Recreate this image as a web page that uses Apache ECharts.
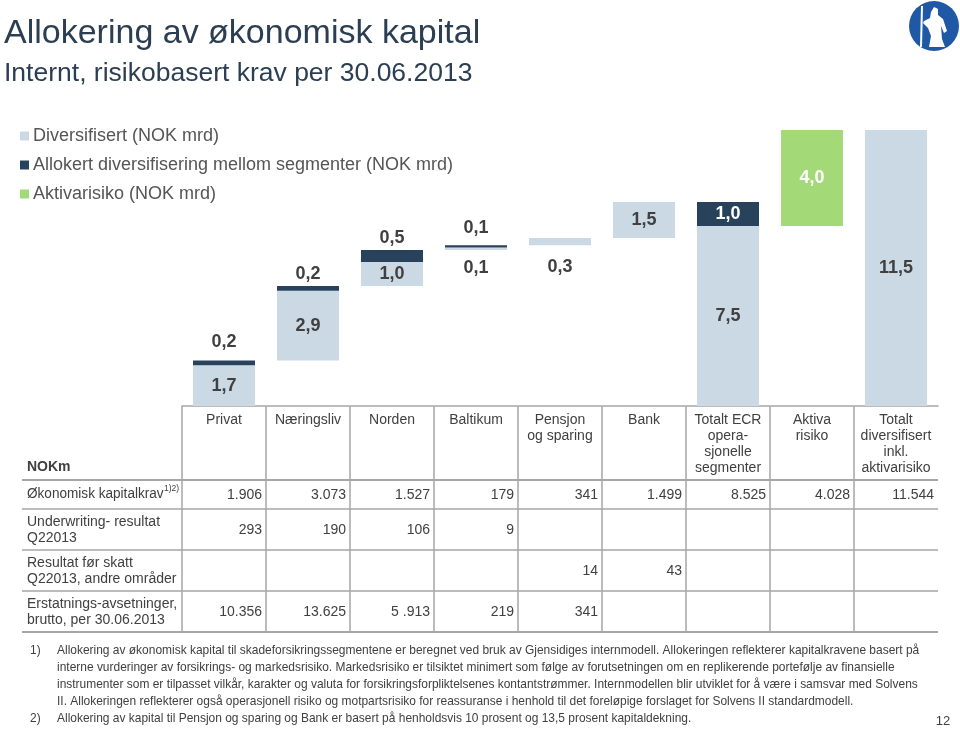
<!DOCTYPE html>
<html>
<head>
<meta charset="utf-8">
<script src="https://cdn.jsdelivr.net/npm/echarts@6/dist/echarts.min.js"></script>
<style>
  html, body { margin: 0; padding: 0; background: #fff; }
  #main { width: 960px; height: 730px; }
</style>
</head>
<body>
<div id="main"></div>
<script>
// segmenter (kategorier)
const segments = ['Privat', 'Næringsliv', 'Norden', 'Baltikum', 'Pensjon og sparing', 'Bank',
  'Totalt ECR operasjonelle segmenter', 'Aktiva risiko', 'Totalt diversifisert inkl. aktivarisiko'];
// tabellhoder, linje for linje
const headerLines = [['Privat'], ['Næringsliv'], ['Norden'], ['Baltikum'], ['Pensjon', 'og sparing'], ['Bank'],
  ['Totalt ECR', 'opera-', 'sjonelle', 'segmenter'], ['Aktiva', 'risiko'], ['Totalt', 'diversifisert', 'inkl.', 'aktivarisiko']];

// NOK mrd
const diversifisert = [1.7, 2.9, 1.0, 0.1, 0.3, 1.5, 7.5, 0, 11.5];
const allokert = [0.2, 0.2, 0.5, 0.1, 0, 0, 1.0, 0, 0];
const aktivarisiko = [0, 0, 0, 0, 0, 0, 0, 4.0, 0];

// tabell (NOKm)
const rowLabels = [['Økonomisk kapitalkrav'], ['Underwriting- resultat', 'Q22013'],
  ['Resultat før skatt', 'Q22013, andre områder'], ['Erstatnings-avsetninger,', 'brutto, per 30.06.2013']];
const kapitalkrav = ['1.906', '3.073', '1.527', '179', '341', '1.499', '8.525', '4.028', '11.544'];
const underwriting = ['293', '190', '106', '9', '', '', '', '', ''];
const resultatForSkatt = ['', '', '', '', '14', '43', '', '', ''];
const erstatning = ['10.356', '13.625', '5 .913', '219', '341', '', '', '', ''];

const footnote1 = [
  'Allokering av økonomisk kapital til skadeforsikringssegmentene er beregnet ved bruk av Gjensidiges internmodell. Allokeringen reflekterer kapitalkravene basert på',
  'interne vurderinger av forsikrings- og markedsrisiko. Markedsrisiko er tilsiktet minimert som følge av forutsetningen om en replikerende portefølje av finansielle',
  'instrumenter som er tilpasset vilkår, karakter og valuta for forsikringsforpliktelsenes kontantstrømmer. Internmodellen blir utviklet for å være i samsvar med Solvens',
  'II. Allokeringen reflekterer også operasjonell risiko og motpartsrisiko for reassuranse i henhold til det foreløpige forslaget for Solvens II standardmodell.'
];
const footnote2 = 'Allokering av kapital til Pensjon og sparing og Bank er basert på henholdsvis 10 prosent og 13,5 prosent kapitaldekning.';

// usynlig base for fossefallet
let run = 0;
const base = segments.map(function (s, i) {
  if (i < 6) { const b = run; run += diversifisert[i] + allokert[i]; return b; }
  if (i === 7) return diversifisert[6];
  return 0;
});

const LIGHT = '#cbd9e5', DARK = '#29425c', GREEN = '#a3d977';
const TXT = '#404040', GRID = '#a6a6a6';
const FONT = 'Liberation Sans, Arial, sans-serif';

function fmt(p) { return p.value ? p.value.toFixed(1).replace('.', ',') : ''; }

const lightLabel = { 3: { position: 'bottom', distance: 9 }, 4: { position: 'bottom', distance: 13 } };
const darkLabel = { 0: { position: 'top', distance: 9 }, 1: { position: 'top', distance: 3 },
  2: { position: 'top', distance: 3 }, 3: { position: 'top', distance: 8 }, 6: { position: 'inside', color: '#fff' } };

function withLabels(values, extra) {
  return values.map(function (v, i) {
    return extra[i] ? { value: v, label: extra[i] } : v;
  });
}

const labelBase = { show: true, formatter: fmt, fontSize: 18, fontWeight: 'bold', color: TXT, fontFamily: FONT };

// tabell
const colW = 84, gx = 182, tTop = 406;
const g = [];
function txt(x, y, t, o, sx) {
  g.push({ type: 'text', x: x, y: y, scaleX: sx || 1, silent: true,
    style: Object.assign({ text: t, fill: TXT, font: '14px ' + FONT, textAlign: 'left', textVerticalAlign: 'middle' }, o || {}) });
}
function line(x1, y1, x2, y2, w) {
  g.push({ type: 'line', silent: true, shape: { x1: x1, y1: y1, x2: x2, y2: y2 }, style: { stroke: GRID, lineWidth: w } });
}
for (let i = 0; i < 9; i++) line(gx + i * colW, tTop, gx + i * colW, 632, 1.5);
line(22, 480, 938, 480, 2);
line(22, 509, 938, 509, 1.5);
line(22, 550, 938, 550, 1.5);
line(22, 591, 938, 591, 1.5);
line(22, 632, 938, 632, 2);

headerLines.forEach(function (ls, i) {
  ls.forEach(function (l, k) { txt(gx + i * colW + colW / 2, 420 + k * 16, l, { textAlign: 'center' }); });
});
txt(27, 467, 'NOKm', { font: 'bold 14px ' + FONT });
const tableRows = [kapitalkrav, underwriting, resultatForSkatt, erstatning];
const rowMid = [495, 530, 571, 612];
tableRows.forEach(function (row, r) {
  row.forEach(function (v, i) { if (v) txt(gx + (i + 1) * colW - 4, rowMid[r], v, { textAlign: 'right' }); });
  const ls = rowLabels[r];
  if (ls.length === 1) txt(27, rowMid[r] - 1, ls[0], null, 0.97);
  else ls.forEach(function (l, k) { txt(27, rowMid[r] - 8 + k * 16, l); });
});
txt(164, 489, '1)2)', { font: '8.5px ' + FONT });

// overskrift
txt(4, 34, 'Allokering av økonomisk kapital', { font: '34px ' + FONT, fill: '#2b3e52' });
txt(4, 74, 'Internt, risikobasert krav per 30.06.2013', { font: '26.5px ' + FONT, fill: '#2b3e52' });

// fotnoter
const SMALL = '13px ' + FONT, SX = 0.92;
txt(30, 650, '1)', { font: SMALL }, SX);
footnote1.forEach(function (l, k) { txt(57, 650 + k * 17, l, { font: SMALL }, SX); });
txt(30, 718, '2)', { font: SMALL }, SX);
txt(57, 718, footnote2, { font: SMALL }, SX);
txt(943, 721, '12', { font: '13px ' + FONT, textAlign: 'center' });

// logo
g.push({ type: 'circle', silent: true, shape: { cx: 934, cy: 26, r: 25 }, style: { fill: '#1f58a4' } });
g.push({ type: 'line', silent: true, shape: { x1: 922, y1: 6, x2: 921, y2: 47 }, style: { stroke: '#fff', lineWidth: 2 } });
g.push({ type: 'polygon', silent: true, shape: { points: [[931, 12], [934, 7], [938, 9], [938, 15], [943, 19], [947, 31], [944, 33], [941, 26],
  [942, 39], [945, 47], [929, 47], [931, 36], [928, 28], [923, 23], [924, 21], [930, 18]] }, style: { fill: '#fff' } });

const chart = echarts.init(document.getElementById('main'));
chart.setOption({
  animation: false,
  backgroundColor: '#fff',
  textStyle: { fontFamily: FONT },
  legend: {
    orient: 'vertical', left: 15, top: 121, icon: 'rect', itemWidth: 9, itemHeight: 9, itemGap: 9,
    data: ['Diversifisert (NOK mrd)', 'Allokert diversifisering mellom segmenter (NOK mrd)', 'Aktivarisiko (NOK mrd)'],
    textStyle: { fontSize: 18, color: '#555', lineHeight: 20, fontFamily: FONT, padding: [0, 0, 0, -1] }
  },
  grid: { left: 182, right: 22, top: 106, bottom: 324 },
  xAxis: {
    type: 'category', data: segments,
    axisLine: { lineStyle: { color: GRID, width: 1.5 } },
    axisTick: { show: false }, axisLabel: { show: false }
  },
  yAxis: { type: 'value', min: 0, max: 12.5, show: false, splitLine: { show: false } },
  series: [
    { name: 'base', type: 'bar', stack: 'w', barWidth: 62, data: base, itemStyle: { color: 'rgba(0,0,0,0)' }, silent: true },
    { name: 'Diversifisert (NOK mrd)', type: 'bar', stack: 'w', barWidth: 62, itemStyle: { color: LIGHT },
      label: Object.assign({}, labelBase, { position: 'inside' }), data: withLabels(diversifisert, lightLabel) },
    { name: 'Allokert diversifisering mellom segmenter (NOK mrd)', type: 'bar', stack: 'w', barWidth: 62, itemStyle: { color: DARK },
      label: Object.assign({}, labelBase, { position: 'top' }), data: withLabels(allokert, darkLabel) },
    { name: 'Aktivarisiko (NOK mrd)', type: 'bar', stack: 'w', barWidth: 62, itemStyle: { color: GREEN },
      label: Object.assign({}, labelBase, { position: 'inside', color: '#fff' }), data: aktivarisiko }
  ],
  graphic: g
});
</script>
</body>
</html>
